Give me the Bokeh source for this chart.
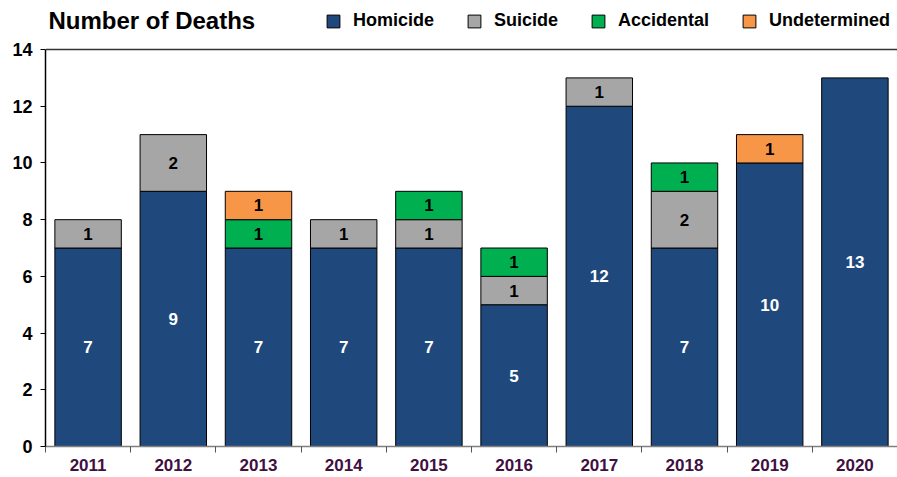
from bokeh.plotting import figure
from bokeh.models import ColumnDataSource, Range1d, FixedTicker, Span, Legend, LegendItem, Label
from bokeh.core.properties import value
from bokeh.embed import file_html
from bokeh.resources import INLINE

years = ["2011", "2012", "2013", "2014", "2015", "2016", "2017", "2018", "2019", "2020"]
homicide = [7, 9, 7, 7, 7, 5, 12, 7, 10, 13]
suicide = [1, 2, 0, 1, 1, 1, 1, 2, 0, 0]
accidental = [0, 0, 1, 0, 1, 1, 0, 1, 0, 0]
undetermined = [0, 0, 1, 0, 0, 0, 0, 0, 1, 0]
y_ticks = [0, 2, 4, 6, 8, 10, 12, 14]

series = ["Homicide", "Suicide", "Accidental", "Undetermined"]
colors = ["#1F497D", "#A6A6A6", "#00B050", "#F79646"]
label_colors = ["white", "black", "black", "black"]
FONT = "Liberation Sans"

Y_MAX = 14
Y_TOP = 15.73  # extra room above the plot for title and legend

cols = [homicide, suicide, accidental, undetermined]
xs = [i + 0.5 for i in range(len(years))]
data = dict(x=xs)
for s, col in zip(series, cols):
    data[s] = col
    data["la_" + s] = [1.0 if v > 0 else 0.0 for v in col]
src = ColumnDataSource(data)

p = figure(width=897, height=477, output_backend="svg", toolbar_location=None,
           x_range=Range1d(0, 10), y_range=Range1d(0, Y_TOP),
           min_border_left=45, min_border_right=0, min_border_bottom=31, min_border_top=0)
p.outline_line_color = None
p.xgrid.visible = False
p.ygrid.visible = False

renderers = p.vbar_stack(series, x="x", width=0.78, color=colors, line_color="black",
                         line_width=1, line_alpha=["la_" + s for s in series], source=src)

# value labels
lx, ly, lt, lc = [], [], [], []
for i in range(len(years)):
    bottom = 0
    for s, col in enumerate(cols):
        v = col[i]
        if v > 0:
            lx.append(xs[i]); ly.append(bottom + v / 2); lt.append(str(v)); lc.append(label_colors[s])
        bottom += v
lsrc = ColumnDataSource(dict(x=lx, y=ly, t=lt, c=lc))
p.text(x="x", y="y", text="t", text_color="c", source=lsrc, text_align="center",
       text_baseline="middle", text_font=value(FONT), text_font_size="17px", text_font_style="bold")

p.add_layout(Span(location=Y_MAX, dimension="width", line_color="#333333", line_width=1.5))

# title
p.add_layout(Label(x=3, y=426, x_units="screen", y_units="screen",
                   text="Number of Deaths", text_font=FONT, text_font_size="24px",
                   text_font_style="bold", text_color="black", text_baseline="middle"))

# axes
p.yaxis.ticker = FixedTicker(ticks=y_ticks)
p.yaxis.bounds = (0, Y_MAX)
p.yaxis.minor_tick_line_color = None
p.yaxis.major_tick_out = 5
p.yaxis.major_tick_in = 0
p.yaxis.axis_line_color = "black"
p.yaxis.axis_line_width = 1.5
p.yaxis.major_label_text_font = FONT
p.yaxis.major_label_text_font_size = "18px"
p.yaxis.major_label_text_font_style = "bold"
p.yaxis.major_label_text_color = "black"
p.yaxis.major_label_standoff = 8

p.xaxis.ticker = FixedTicker(ticks=xs, minor_ticks=list(range(0, 11)))
p.xaxis.major_label_overrides = {x: y for x, y in zip(xs, years)}
p.xaxis.major_tick_line_color = None
p.xaxis.minor_tick_out = 6
p.xaxis.minor_tick_in = 0
p.xaxis.minor_tick_line_color = "#555555"
p.xaxis.axis_line_color = "#7F7F7F"
p.xaxis.axis_line_width = 1.5
p.xaxis.major_label_text_font = FONT
p.xaxis.major_label_text_font_size = "17px"
p.xaxis.major_label_text_font_style = "bold"
p.xaxis.major_label_text_color = "#3F1040"
p.xaxis.major_label_standoff = 6

legend_rows = [0, 0, 2, 2]  # rows where each series has a visible outline
legend = Legend(items=[LegendItem(label=s, renderers=[r], index=k)
                       for s, r, k in zip(series, renderers, legend_rows)],
                orientation="horizontal", location=(280, 415))
legend.border_line_color = None
legend.background_fill_alpha = 0
legend.label_text_font = FONT
legend.label_text_font_size = "18px"
legend.label_text_font_style = "bold"
legend.label_text_color = "black"
legend.glyph_width = 16
legend.glyph_height = 16
legend.label_standoff = 12
legend.spacing = 32
legend.padding = 2
legend.margin = 0
p.add_layout(legend, "center")

open("out.html", "w").write(file_html(p, INLINE))
